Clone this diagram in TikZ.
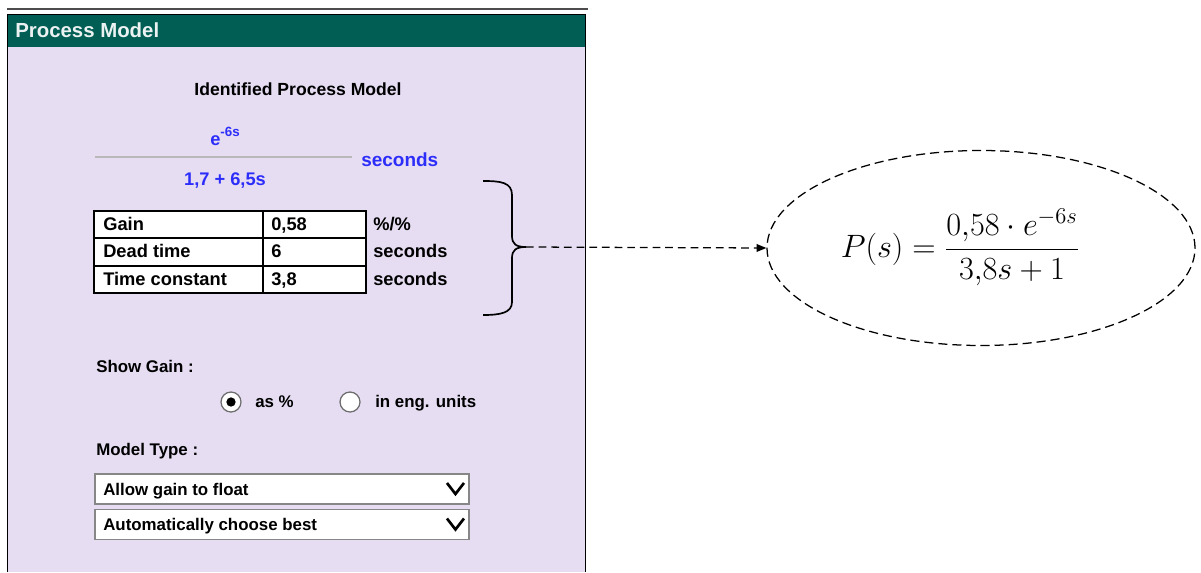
\RequirePackage{fix-cm}
\documentclass[tikz,border=0pt]{standalone}
\usepackage{fontspec}
\setmainfont{Liberation Sans}
\usetikzlibrary{arrows.meta,shapes.geometric}
\definecolor{hdrteal}{RGB}{0,94,84}
\definecolor{panelbg}{RGB}{230,221,243}
\definecolor{valblue}{RGB}{45,45,250}
\definecolor{boxgray}{RGB}{135,135,135}
\newcommand\pxl{0.025cm}
\tikzset{
  lbl/.style={anchor=base west,inner sep=0pt,font=\fontsize{12}{14}\selectfont\bfseries},
  tbltxt/.style={anchor=base west,inner sep=0pt,font=\fontsize{13}{15}\selectfont\bfseries},
  bluetxt/.style={inner sep=0pt,text=valblue,font=\fontsize{13}{15}\selectfont\bfseries},
  dropbox/.style={draw=boxgray,line width=1.4pt,fill=white,anchor=north west,
    minimum width=374*\pxl,minimum height=30*\pxl,inner sep=0pt},
  radio/.style={circle,draw=gray!85!black,fill=white,line width=0.9pt,
    minimum size=20*\pxl,inner sep=0pt},
  chev/.style={line width=1.9pt},
}
\begin{document}
\begin{tikzpicture}[x=\pxl,y=-\pxl]
    \useasboundingbox (0,0) rectangle (1201,572);
    % Panel
    \draw[line width=1.4pt,gray!60!black] (7,9) -- (588,9);
    \fill[panelbg] (8,47) rectangle (585,572);
    \fill[hdrteal] (8,15) rectangle (585,47);
    \draw[line width=1.2pt] (7.5,572) -- (7.5,14.5) -- (585.5,14.5) -- (585.5,572);
    \node[anchor=base west,inner sep=0pt,text=white!92!hdrteal,
      font=\fontsize{14.5}{16}\selectfont\bfseries] (title) at (15,37) {Process Model};
    \node[anchor=base,inner sep=0pt,font=\fontsize{12.5}{14}\selectfont\bfseries]
      (idtitle) at (298,95) {Identified Process Model};
    % Transfer function
    \node[bluetxt,anchor=base] (num) at (225,145)
      {e\raisebox{5.7pt}{\fontsize{9.5}{10}\selectfont -6s}};
    \draw[gray!55,line width=0.8pt] (95,157) -- (352,157);
    \node[bluetxt,anchor=base] (den) at (225,185) {1,7 + 6,5s};
    \node[bluetxt,anchor=base west,font=\fontsize{13.5}{15}\selectfont\bfseries]
      (tfunit) at (361,166) {seconds};
    % Parameter table
    \fill[white] (94,211) rectangle (366,293);
    \draw[line width=1.4pt] (94,211) rectangle (366,293)
      (263,211) -- (263,293) (94,238.3) -- (366,238.3) (94,265.7) -- (366,265.7);
    \foreach \nm/\val/\unit [count=\i from 0] in
      {Gain/{0,58}/{\%/\%},{Dead time}/6/seconds,{Time constant}/{3,8}/seconds} {
      \node[tbltxt] (par\i) at (103,{230.5+27.3*\i}) {\nm};
      \node[tbltxt] (val\i) at (271,{230.5+27.3*\i}) {\val};
      \node[tbltxt] (unit\i) at (373,{230.5+27.3*\i}) {\unit};
    }
    % Brace
    \draw[line width=1.2pt] (483,181) .. controls (500,181) and (512,182) .. (512,195)
      -- (512,236) .. controls (512,244) and (516,247) .. (526,247)
      .. controls (516,247) and (512,250) .. (512,258)
      -- (512,302) .. controls (512,313) and (500,315) .. (483,315);
    \coordinate (tip) at (526,247);
    % Model
    \node[ellipse,draw,line width=0.9pt,dash pattern=on 6.5pt off 3.5pt,
      minimum width=428*\pxl,minimum height=195*\pxl] (model) at (981,248) {};
    \node[anchor=base,inner sep=0pt,font=\fontsize{23}{27}\selectfont] (pfun) at (960,257)
      {$\displaystyle P(s) = \frac{0{,}58\cdot e^{-6s}}{3{,}8s+1}$};
    \draw[line width=0.9pt,dash pattern=on 5.5pt off 3.5pt,
      -{Triangle[length=7pt,width=5.5pt]}] (tip) -- (model.west);
    % Show gain
    \node[lbl] (showgain) at (96,372) {Show Gain :};
    \node[radio] (rpct) at (231,402) {};
    \fill (rpct.center) circle[radius=3.3pt];
    \node[lbl] (pct) at (255,407) {as \%};
    \node[radio] (reng) at (350,402) {};
    \node[lbl] (eng) at (375,407) {in eng. units};
    % Model type
    \node[lbl] (modeltype) at (96,455) {Model Type :};
    \node[dropbox] (drop1) at (94,473) {};
    \node[lbl] (dtxt1) at (103,495) {Allow gain to float};
    \draw[chev] ([xshift=-23*\pxl,yshift=6*\pxl]drop1.east) -- ++(8.5,11) -- ++(8.5,-11);
    \node[dropbox] (drop2) at (94,508.5) {};
    \node[lbl] (dtxt2) at (103,530) {Automatically choose best};
    \draw[chev] ([xshift=-23*\pxl,yshift=6*\pxl]drop2.east) -- ++(8.5,11) -- ++(8.5,-11);
\end{tikzpicture}
\end{document}
